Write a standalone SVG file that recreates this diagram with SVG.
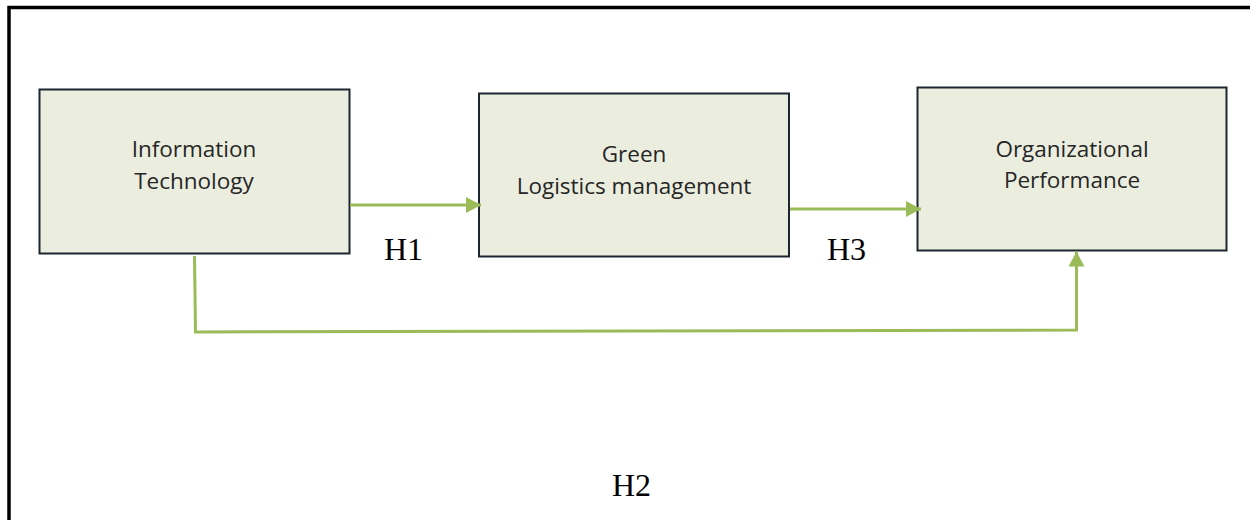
<svg xmlns="http://www.w3.org/2000/svg" width="1250" height="520" viewBox="0 0 1250 520">
  <defs>
    <style>
      .box { fill: #ebeedf; stroke: #1d2630; stroke-width: 2; }
      .lbl { font-family: "Open Sans", "Noto Sans", sans-serif; font-size: 22.5px; fill: #262626; text-anchor: middle; }
      .h { font-family: "Liberation Serif", "Times New Roman", serif; font-size: 32px; fill: #000; }
      .conn { fill: none; stroke: #9bbb59; stroke-width: 3; }
    </style>
    <marker id="arr" markerUnits="userSpaceOnUse" markerWidth="16" markerHeight="17" refX="15" refY="8" orient="auto">
      <path d="M0,0 L15,8 L0,16 Z" fill="#9bbb59"/>
    </marker>
  </defs>
  <rect width="1250" height="520" fill="#ffffff"/>
  <path d="M9,520 V7.5 H1250" fill="none" stroke="#000" stroke-width="3.5"/>

  <g id="node-it">
    <rect class="box" x="39.5" y="89.5" width="310" height="164"/>
    <text class="lbl" x="194" y="157">Information</text>
    <text class="lbl" x="194" y="189">Technology</text>
  </g>
  <g id="node-glm">
    <rect class="box" x="479" y="93.5" width="310" height="163"/>
    <text class="lbl" x="634" y="162">Green</text>
    <text class="lbl" x="634" y="194">Logistics management</text>
  </g>
  <g id="node-op">
    <rect class="box" x="917.5" y="87.5" width="309" height="163"/>
    <text class="lbl" x="1072" y="156.5">Organizational</text>
    <text class="lbl" x="1072" y="188">Performance</text>
  </g>

  <g id="connectors">
    <line class="conn" x1="350" y1="205" x2="481" y2="205" marker-end="url(#arr)"/>
    <line class="conn" x1="790" y1="209" x2="921" y2="209" marker-end="url(#arr)"/>
    <polyline class="conn" points="194.5,256 195.5,332 1076.5,330 1076.5,251.5" marker-end="url(#arr)"/>
  </g>

  <g id="labels">
    <text class="h" x="384" y="260">H1</text>
    <text class="h" x="827" y="260">H3</text>
    <text class="h" x="612" y="496">H2</text>
  </g>
</svg>
